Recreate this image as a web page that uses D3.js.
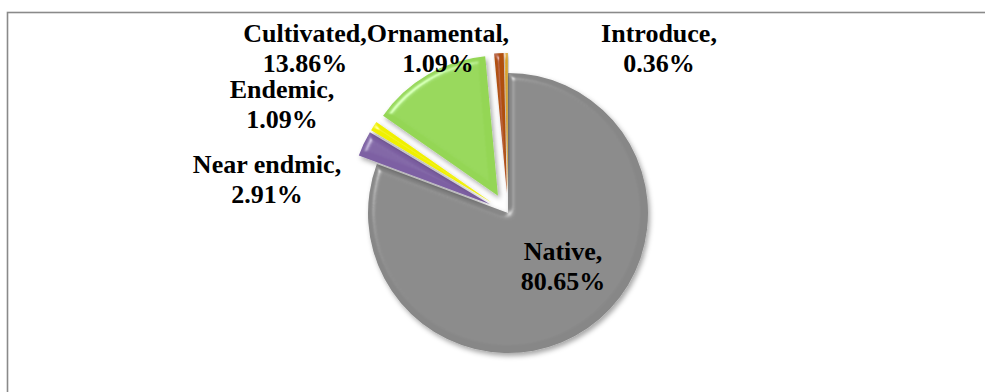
<!DOCTYPE html>
<html>
<head>
<meta charset="utf-8">
<script src="https://cdn.jsdelivr.net/npm/d3@7/dist/d3.min.js"></script>
<style>
  html, body { margin: 0; padding: 0; background: #fff; }
  svg { display: block; }
</style>
</head>
<body>
<svg id="chart" width="985" height="392"></svg>
<script>
// Species status shares (%)
const categories = ["Native", "Near endmic", "Endemic", "Cultivated", "Ornamental", "Introduce"];
const shares = [80.65, 2.91, 1.09, 13.86, 1.09, 0.36];
const sliceColors = ["#878787", "#7d60a3", "#f0f000", "#94d654", "#b0500e", "#d6a01c"];
// slices pulled out from the centre (px)
const explodeBy = [0, 20, 20, 20, 20, 20];

// label anchor points (horizontal centre, first baseline)
const labelAnchors = [
  [563, 260], [267, 173], [282, 98], [305, 42], [438, 42], [659, 42]
];

const svg = d3.select("#chart");
const W = 985, H = 392;
const labelFont = "'Liberation Serif', 'Times New Roman', Times, serif";

// chart frame
svg.append("rect")
  .attr("x", 7.5).attr("y", 12.5)
  .attr("width", W + 20).attr("height", H + 20)
  .attr("fill", "none").attr("stroke", "#8a8a8a").attr("stroke-width", 1.6);

// bevel + soft drop shadow for the slices
const defs = svg.append("defs");
const f = defs.append("filter").attr("id", "bevel")
  .attr("x", "-20%").attr("y", "-20%").attr("width", "140%").attr("height", "140%");
f.append("feGaussianBlur").attr("in", "SourceAlpha").attr("stdDeviation", 3).attr("result", "blur");
const spec = f.append("feSpecularLighting").attr("in", "blur")
  .attr("surfaceScale", 5).attr("specularConstant", 0.9).attr("specularExponent", 30)
  .attr("lighting-color", "#ffffff").attr("result", "spec");
spec.append("feDistantLight").attr("azimuth", 225).attr("elevation", 40);
f.append("feComposite").attr("in", "spec").attr("in2", "SourceAlpha").attr("operator", "in").attr("result", "specIn");
f.append("feComposite").attr("in", "SourceGraphic").attr("in2", "specIn")
  .attr("operator", "arithmetic").attr("k1", 0).attr("k2", 1).attr("k3", 0.45).attr("k4", 0).attr("result", "lit");
f.append("feGaussianBlur").attr("in", "SourceAlpha").attr("stdDeviation", 2.5).attr("result", "sblur");
f.append("feOffset").attr("in", "sblur").attr("dx", 2).attr("dy", 3).attr("result", "soff");
f.append("feFlood").attr("flood-color", "#000").attr("flood-opacity", 0.35).attr("result", "sc");
f.append("feComposite").attr("in", "sc").attr("in2", "soff").attr("operator", "in").attr("result", "shadow");
const m = f.append("feMerge");
m.append("feMergeNode").attr("in", "shadow");
m.append("feMergeNode").attr("in", "lit");

const cx = 508, cy = 213, R = 140;

const pie = d3.pie().sort(null).value(d => d.v);
const arcs = pie(categories.map((c, i) => ({ name: c, v: shares[i], i })));
const arc = d3.arc().innerRadius(0).outerRadius(R);

const g = svg.append("g").attr("transform", `translate(${cx},${cy})`);

g.selectAll("path.slice")
  .data(arcs)
  .join("path")
  .attr("class", "slice")
  .attr("d", arc)
  .attr("fill", d => sliceColors[d.data.i])
  .attr("filter", "url(#bevel)")
  .attr("transform", d => {
    const a = (d.startAngle + d.endAngle) / 2;
    const e = explodeBy[d.data.i];
    return `translate(${Math.sin(a) * e},${-Math.cos(a) * e})`;
  });

// data labels: "Category," on the first line, value on the second
const lbl = svg.append("g")
  .attr("font-family", labelFont)
  .attr("font-weight", "bold")
  .attr("font-size", 26)
  .attr("fill", "#000");
arcs.forEach(d => {
  const [lx, ly] = labelAnchors[d.data.i];
  const t = lbl.append("text").attr("text-anchor", "middle");
  t.append("tspan").attr("x", lx).attr("y", ly).text(d.data.name + ",");
  t.append("tspan").attr("x", lx).attr("y", ly + 30).text(d3.format(".2f")(d.data.v) + "%");
});
</script>
</body>
</html>
